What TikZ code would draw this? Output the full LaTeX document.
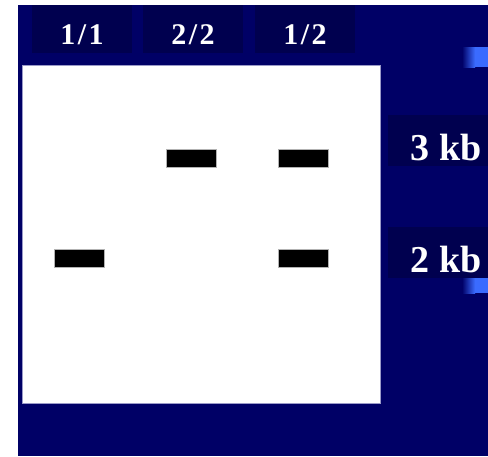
\documentclass[tikz,border=0pt]{standalone}
\usepackage{fontspec}
\setmainfont{Liberation Serif}
\usepackage{tikz,xcolor}
\definecolor{slidenavy}{HTML}{000066}
\definecolor{tabnavy}{HTML}{00004F}
\definecolor{barblue}{HTML}{3A6BFF}
\definecolor{gelrim}{HTML}{9A9AC8}
\tikzset{
  % dark tab with a lane label on it
  lanetab/.style={
    fill=tabnavy, text=white, inner sep=0pt,
    font=\bfseries\fontsize{30}{30}\selectfont,
    minimum width=100pt, text height=39pt, text depth=9pt
  },
  % dark tab with a fragment size on it
  sizetab/.style={
    fill=tabnavy, text=white, inner sep=0pt,
    font=\bfseries\fontsize{38}{38}\selectfont,
    minimum width=116pt, text height=45pt, text depth=6pt
  },
  % a DNA band in the gel
  band/.style={
    fill=black, draw=gray!60, line width=0.6pt, inner sep=0pt,
    minimum width=50pt, minimum height=18pt
  },
}

\begin{document}
\begin{tikzpicture}[x=1pt,y=-1pt]
  \useasboundingbox (0,0) rectangle (488,456);
  % Draw the slide background
  \fill[slidenavy] (18,5) rectangle (488,456);
  \shade[left color=slidenavy, right color=barblue] (462,47) rectangle (475,67);
  \fill[barblue] (475,47) rectangle (488,67);
  \shade[left color=slidenavy, right color=barblue] (462,272) rectangle (475,293);
  \fill[barblue] (475,272) rectangle (488,293);
  % Draw the lane labels
  \node[lanetab] (L1) at (82,29) {1\kern2.5pt/\kern2.5pt1};
  \node[lanetab] (L2) at (193,29) {2\kern2.5pt/\kern2.5pt2};
  \node[lanetab] (L3) at (305,29) {1\kern2.5pt/\kern2.5pt2};
  % Draw the size labels
  \node[sizetab] (kb3) at (446,140.5) {3 kb};
  \node[sizetab] (kb2) at (446,252.5) {2 kb};
  % Draw the gel
  \filldraw[fill=white, draw=gelrim, line width=1pt] (22,65) rectangle (380,403);
  % Draw the bands
  \foreach \name/\x/\y in {b1/79/258, b2/191/158, b3/303/158, b4/303/258} {
    \node[band] (\name) at (\x,\y) {};
  }
\end{tikzpicture}
\end{document}
